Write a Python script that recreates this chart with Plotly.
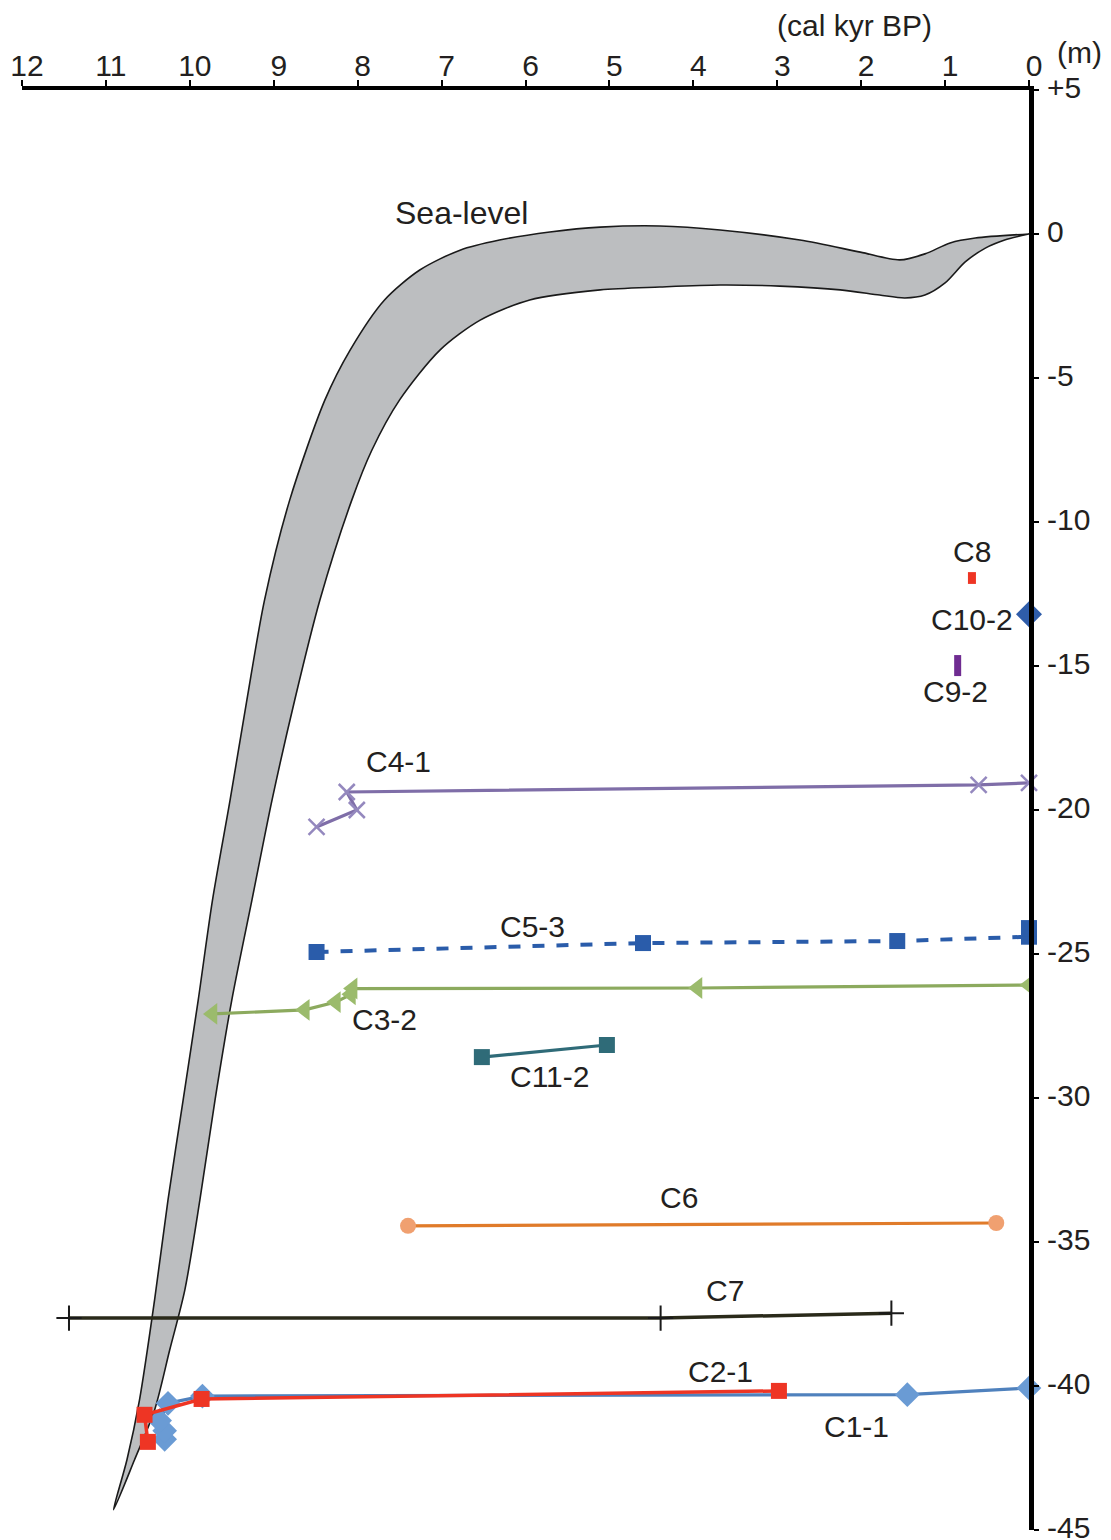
import plotly.graph_objects as go

# ---------------- data (cal kyr BP, m) ----------------
band_upper_age = [10.91, 10.75, 10.60, 10.42, 10.26, 10.08, 9.90, 9.73, 9.52, 9.32, 9.11, 8.81,
                  8.39, 8.09, 7.68, 7.26, 6.78, 6.31, 5.71, 5.11, 4.40, 3.68, 2.73, 2.01, 1.54,
                  1.24, 0.94, 0.64, 0.0]
band_upper_depth = [-44.3, -42.57, -40.49, -37.01, -33.54, -30.07, -26.6, -23.13, -19.65, -16.18,
                    -12.71, -9.24, -5.76, -4.03, -2.29, -1.25, -0.56, -0.21, 0.07, 0.24, 0.28, 0.14,
                    -0.21, -0.63, -0.9, -0.69, -0.31, -0.14, 0.0]
band_lower_age = [0.0, 0.29, 0.52, 0.76, 1.0, 1.24, 1.48, 1.78, 2.25, 2.97, 3.68, 4.40, 5.11, 5.95,
                  6.54, 7.02, 7.50, 7.83, 8.07, 8.45, 8.75, 9.02, 9.26, 9.50, 9.70, 9.88, 10.06,
                  10.24, 10.42, 10.66, 10.91]
band_lower_depth = [0.0, -0.21, -0.49, -0.97, -1.7, -2.12, -2.22, -2.12, -1.94, -1.81, -1.77, -1.84,
                    -1.94, -2.29, -2.99, -4.03, -5.76, -7.5, -9.24, -12.71, -16.18, -19.65, -23.13,
                    -26.6, -30.07, -33.54, -36.67, -38.75, -40.83, -42.57, -44.3]

c1_1_age = [10.30, 10.30, 10.36, 10.26, 9.85, 1.45, 0.0]
c1_1_depth = [-41.85, -41.55, -41.2, -40.6, -40.35, -40.3, -40.07]
c2_1_age = [10.50, 10.54, 9.86, 2.98]
c2_1_depth = [-41.94, -41.0, -40.45, -40.17]
c7_age = [11.44, 4.39, 1.64]
c7_depth = [-37.64, -37.64, -37.47]
c6_age = [7.40, 0.39]
c6_depth = [-34.44, -34.34]
c11_2_age = [6.52, 5.03]
c11_2_depth = [-28.58, -28.16]
c3_2_age = [0.0, 3.95, 8.06, 8.08, 8.26, 8.63, 9.73]
c3_2_depth = [-26.08, -26.18, -26.2, -26.4, -26.67, -26.94, -27.08]
c5_3_age = [8.49, 4.60, 1.57, 0.0, 0.0]
c5_3_depth = [-24.93, -24.62, -24.55, -24.4, -24.1]
c4_1_age = [8.49, 8.01, 8.13, 0.60, 0.0]
c4_1_depth = [-20.59, -20.0, -19.375, -19.13, -19.06]
c10_2_age = [0.0]
c10_2_depth = [-13.2]
c8_age = [0.68, 0.68]
c8_depth = [-11.74, -12.15]
c9_2_age = [0.85, 0.85]
c9_2_depth = [-14.62, -15.35]

x_ticks = list(range(0, 13))
y_ticks = [5, 0, -5, -10, -15, -20, -25, -30, -35, -40, -45]
y_ticktext = ["+5", "0", "-5", "-10", "-15", "-20", "-25", "-30", "-35", "-40", "-45"]

labels = [
    ("Sea-level", 6.76, 0.73, 32),
    ("C8", 0.68, -11.04, 30),
    ("C10-2", 0.68, -13.37, 30),
    ("C9-2", 0.87, -15.9, 30),
    ("C4-1", 7.51, -18.33, 30),
    ("C5-3", 5.92, -24.06, 30),
    ("C3-2", 7.68, -27.26, 30),
    ("C11-2", 5.71, -29.27, 30),
    ("C6", 4.17, -33.47, 30),
    ("C7", 3.62, -36.67, 30),
    ("C2-1", 3.68, -39.48, 30),
    ("C1-1", 2.05, -41.42, 30),
]

FONT = "Liberation Sans, Arial, Helvetica, sans-serif"
TXT = "#231F20"

fig = go.Figure()

# sea-level band
fig.add_trace(go.Scatter(
    x=band_upper_age + band_lower_age, y=band_upper_depth + band_lower_depth,
    mode="lines", fill="toself", fillcolor="#BCBEC0",
    line=dict(color="#1a1a1a", width=1.6, shape="spline", smoothing=0.8),
    hoverinfo="skip", showlegend=False))

def series(x, y, color, mcolor, symbol, msize, dash="solid", lw=3.2, mline=0):
    fig.add_trace(go.Scatter(
        x=x, y=y, mode="lines+markers",
        line=dict(color=color, width=lw, dash=dash),
        marker=dict(symbol=symbol, size=msize, color=mcolor,
                    line=dict(width=mline, color=mcolor)),
        showlegend=False, cliponaxis=False))

series(c7_age, c7_depth, "#2A2A1A", "#1A1A1A", "cross-thin", 18, lw=3.5, mline=2)
series(c1_1_age, c1_1_depth, "#4F81BD", "#6A9BD4", "diamond", 19)
series(c2_1_age, c2_1_depth, "#EE3524", "#EE3524", "square", 16, lw=3.5)
series(c6_age, c6_depth, "#E07B2A", "#F0A070", "circle", 16)
series(c11_2_age, c11_2_depth, "#2F6B78", "#2F6B78", "square", 16)
series(c3_2_age, c3_2_depth, "#8CAA5E", "#9BBB6C", "triangle-left", 19)
series(c5_3_age, c5_3_depth, "#2A5CAA", "#2A5CAA", "square", 16, dash="dash", lw=4)
series(c4_1_age, c4_1_depth, "#7F6EA8", "#9488BE", "x-thin", 16, mline=2.5)

fig.add_trace(go.Scatter(x=c10_2_age, y=c10_2_depth, mode="markers",
                         marker=dict(symbol="diamond", size=20, color="#2F5DAA"),
                         showlegend=False, cliponaxis=False))
fig.add_trace(go.Scatter(x=c8_age, y=c8_depth, mode="lines",
                         line=dict(color="#EE3524", width=8), showlegend=False))
fig.add_trace(go.Scatter(x=c9_2_age, y=c9_2_depth, mode="lines",
                         line=dict(color="#6F2C91", width=7), showlegend=False))

for text, xa, ya, fs in labels:
    fig.add_annotation(x=xa, y=ya, xref="x", yref="y", text=text, showarrow=False,
                       xanchor="center", yanchor="middle",
                       font=dict(family=FONT, size=fs, color=TXT))

fig.add_annotation(x=0.827, y=1.045, xref="paper", yref="paper", text="(cal kyr BP)",
                   xanchor="center", yanchor="middle",
                   showarrow=False, font=dict(family=FONT, size=30, color=TXT))
fig.add_annotation(x=1.0506, y=1.0258, xref="paper", yref="paper", text="(m)",
                   xanchor="center", yanchor="middle",
                   showarrow=False, font=dict(family=FONT, size=30, color=TXT))

fig.update_layout(
    width=1103, height=1532,
    margin=dict(l=14, r=82, t=82, b=10, autoexpand=False),
    paper_bgcolor="white", plot_bgcolor="white",
    showlegend=False,
    xaxis=dict(range=[12, 0], side="top", tickvals=x_ticks, ticks="outside", ticklen=6,
               tickwidth=2, tickcolor="black", showline=True, linewidth=3.5, linecolor="black",
               showgrid=False, zeroline=False, automargin=False,
               ticklabelstandoff=-8, ticklabelshift=-5, ticklabeloverflow="allow",
               tickfont=dict(family=FONT, size=30, color=TXT)),
    yaxis=dict(range=[-45, 5], side="right", tickvals=y_ticks, ticktext=y_ticktext,
               ticks="outside", ticklen=5, tickwidth=2, tickcolor="black", showline=True,
               linewidth=5, linecolor="black", showgrid=False, zeroline=False,
               ticklabelstandoff=2, ticklabelshift=-3, automargin=False, ticklabeloverflow="allow",
               tickfont=dict(family=FONT, size=30, color=TXT)),
)

fig.write_html("out.html")
